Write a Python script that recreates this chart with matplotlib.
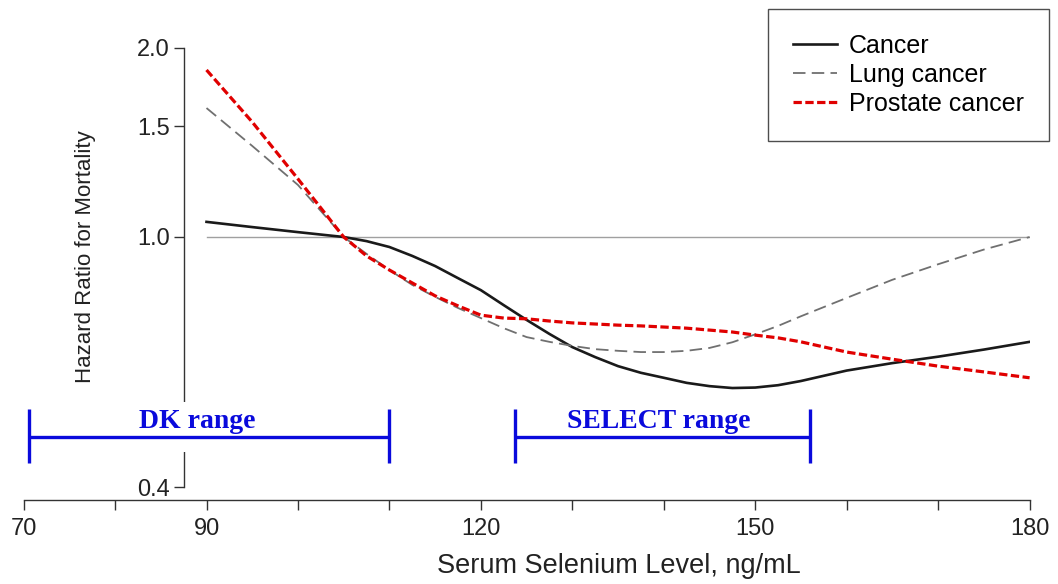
import numpy as np
import matplotlib
matplotlib.use('Agg')
import matplotlib.pyplot as plt
from matplotlib.patches import Rectangle
from matplotlib.ticker import NullLocator

plt.rcParams['font.family'] = ['Liberation Sans Narrow', 'Liberation Sans', 'DejaVu Sans']
plt.rcParams['lines.scale_dashes'] = False

# serum selenium (ng/mL) and hazard ratios
selenium = [90, 95, 100, 105, 107.5, 110, 112.5, 115, 117.5, 120, 122.5, 125, 127.5,
            130, 132.5, 135, 137.5, 140, 142.5, 145, 147.5, 150, 152.5, 155,
            160, 165, 170, 175, 180]
hr_cancer = [1.057, 1.037, 1.018, 1.0, 0.985, 0.964, 0.933, 0.899, 0.860, 0.823, 0.779, 0.738, 0.701,
             0.668, 0.644, 0.623, 0.608, 0.597, 0.586, 0.579, 0.575, 0.576, 0.581, 0.590,
             0.613, 0.630, 0.645, 0.662, 0.681]
hr_lung = [1.604, 1.396, 1.210, 1.0, 0.940, 0.886, 0.839, 0.803, 0.771, 0.743, 0.716, 0.693, 0.681,
           0.671, 0.663, 0.659, 0.656, 0.656, 0.659, 0.666, 0.680, 0.700, 0.722, 0.748,
           0.800, 0.855, 0.905, 0.955, 1.0]
hr_prostate = [1.844, 1.524, 1.237, 1.0, 0.933, 0.886, 0.845, 0.806, 0.777, 0.751, 0.743, 0.741, 0.735,
               0.730, 0.727, 0.724, 0.722, 0.719, 0.716, 0.711, 0.706, 0.698, 0.691, 0.681,
               0.656, 0.639, 0.623, 0.610, 0.597]

ranges = ['DK range', 'SELECT range']
range_lo = [70.6, 123.7]
range_hi = [110.0, 156.0]
range_label_x = [89.0, 139.4]

xticks = list(range(70, 181, 10))
xticklabels = ['70', '', '90', '', '', '120', '', '', '150', '', '', '180']
yticks = [0.4, 1.0, 1.5, 2.0]
yticklabels = ['0.4', '1.0', '1.5', '2.0']

W, H = 1058, 584
fig = plt.figure(figsize=(W / 100, H / 100), dpi=100)
ax = fig.add_axes([23.6 / W, 84 / H, 1006 / W, 500 / H])
ax.set_yscale('log')
ax.set_xlim(70, 180)
ax.set_ylim(0.3815, 2.383)

# reference line at HR = 1
ax.plot([90, 180], [1.0, 1.0], color='#a0a0a0', lw=1.0, zorder=1)

ax.plot(selenium, hr_cancer, color='#1a1a1a', lw=1.9, label='Cancer', zorder=3)
ax.plot(selenium, hr_lung, color='#707070', lw=1.3, dashes=(9, 4.5), label='Lung cancer', zorder=3)
ax.plot(selenium, hr_prostate, color='#e00000', lw=2.3, dashes=(6, 2.5), label='Prostate cancer', zorder=4)

for sp in ['top', 'right']:
    ax.spines[sp].set_visible(False)
ax.spines['left'].set_position(('data', 87.5))
ax.spines['left'].set_bounds(0.4, 2.0)
ax.spines['bottom'].set_bounds(70, 180)
for sp in ['left', 'bottom']:
    ax.spines[sp].set_color('#333333')
    ax.spines[sp].set_linewidth(1.0)

ax.set_xticks(xticks)
ax.set_xticklabels(xticklabels)
ax.set_yticks(yticks)
ax.set_yticklabels(yticklabels)
ax.yaxis.set_minor_locator(NullLocator())
ax.tick_params(axis='both', length=7, width=1.0, color='#333333', labelsize=17,
               labelcolor='#222222', pad=3)
ax.tick_params(axis='x', pad=6)

# gap in the y axis behind the DK range bar
ax.add_patch(Rectangle((86.8, 0.455), 1.4, 0.091, facecolor='white', edgecolor='none',
                       zorder=3, clip_on=False))

blue = '#0a0adc'
for name, lo, hi, lx in zip(ranges, range_lo, range_hi, range_label_x):
    ax.plot([lo, hi], [0.4805, 0.4805], color=blue, lw=2.4, solid_capstyle='butt', zorder=5)
    ax.vlines([lo, hi], 0.437, 0.5325, color=blue, lw=2.4, zorder=5)
    ax.text(lx, 0.509, name, color=blue, fontsize=20, fontweight='bold',
            family=['Liberation Serif', 'DejaVu Serif'], ha='center', va='center', zorder=5)

fig.text(619 / W, 1 - 566 / H, 'Serum Selenium Level, ng/mL', fontsize=19.5,
         color='#222222', ha='center', va='center')
fig.text(85 / W, 1 - 257 / H, 'Hazard Ratio for Mortality', fontsize=16,
         color='#222222', ha='center', va='center', rotation=90)

leg = ax.legend(loc='upper right', bbox_to_anchor=(1049 / W, 1 - 9 / H),
                bbox_transform=fig.transFigure, fontsize=18, frameon=True, fancybox=False,
                edgecolor='#222222', borderaxespad=0, borderpad=1.0, labelspacing=0.2,
                handlelength=1.75, handletextpad=0.5)
leg.get_frame().set_linewidth(1.0)

fig.savefig('out.png', dpi=100)
